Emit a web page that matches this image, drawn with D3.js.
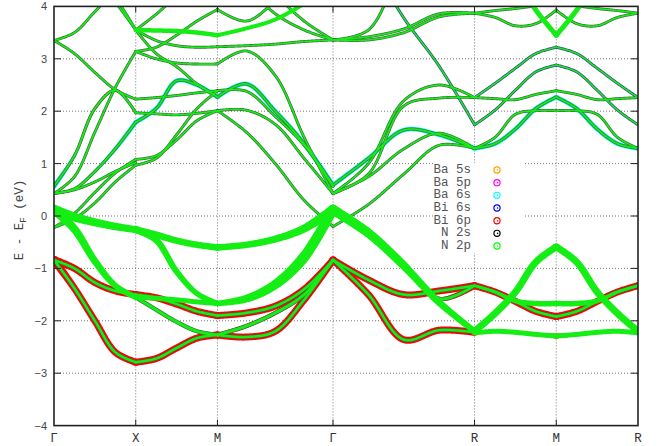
<!DOCTYPE html>
<html><head><meta charset="utf-8">
<script src="https://cdn.jsdelivr.net/npm/d3@7"></script>
<style>body{margin:0;background:#fff} svg{display:block}</style>
</head><body>
<svg id="chart" width="657" height="446"></svg>
<script>
// ---------------- data ----------------
const kTicks = [0, 0.5, 1.0, 1.7071, 2.5731, 3.0731, 3.5731];
const kLabels = ["Γ","X","M","Γ","R","M","R"];
const eTicks = [-4,-3,-2,-1,0,1,2,3,4];
const legendLabels = ["Ba 5s","Ba 5p","Ba 6s","Bi 6s","Bi 6p","N 2s","N 2p"];
const legendColors = ["#ffa500","#ff00ff","#00ffff","#0000ff","#ff0000","#000000","#00ff00"];

// energies (eV) at 5 equally spaced k points of each path segment
const bandsGX = [
 [0.12, -0.02, -0.12, -0.20, -0.26],
 [0.12, -0.25, -0.86, -1.33, -1.55],
 [-0.84, -1.38, -2.00, -2.60, -2.79],
 [-0.84, -1.00, -1.27, -1.43, -1.50],
 [-0.22, 0.05, 0.45, 0.82, 1.08],
 [-0.22, -0.05, 0.25, 0.65, 0.97],
 [0.43, 0.50, 0.65, 0.85, 1.02],
 [0.57, 1.15, 2.05, 2.40, 1.97],
 [0.43, 0.75, 1.60, 2.45, 3.14],
 [0.43, 0.52, 0.85, 1.28, 1.79],
 [3.35, 3.10, 2.74, 2.41, 2.23],
 [3.35, 3.50, 3.90, 4.30, 4.60],
 [5.50, 5.00, 4.50, 4.08, 3.55],
 [5.80, 5.20, 4.70, 4.18, 3.55]
];
const bandsXM = [
 [-0.26, -0.36, -0.47, -0.55, -0.60],
 [-0.26, -0.46, -1.06, -1.48, -1.67],
 [-1.55, -1.57, -1.60, -1.64, -1.67],
 [-1.55, -1.79, -2.02, -2.20, -2.27],
 [-2.79, -2.72, -2.52, -2.33, -2.27],
 [-1.50, -1.56, -1.68, -1.82, -1.90],
 [1.97, 1.95, 1.93, 1.96, 2.01],
 [2.23, 2.26, 2.30, 2.35, 2.39],
 [1.79, 2.05, 2.58, 2.50, 2.27],
 [3.55, 3.10, 2.85, 2.52, 2.27],
 [3.14, 3.22, 3.45, 3.72, 3.94],
 [3.14, 3.00, 2.92, 2.90, 2.90],
 [3.55, 3.35, 3.25, 3.22, 3.23],
 [3.55, 3.54, 3.53, 3.50, 3.45],
 [3.55, 3.85, 4.20, 4.50, 4.80],
 [1.08, 1.15, 1.45, 1.82, 2.01],
 [0.97, 1.10, 1.55, 2.05, 2.39]
];
const bandsMG = [
 [-0.60, -0.55, -0.44, -0.24, 0.12],
 [-1.67, -1.56, -1.28, -0.74, 0.12],
 [-1.67, -1.60, -1.34, -0.82, 0.12],
 [-2.27, -2.10, -1.85, -1.50, -0.84],
 [-2.27, -2.31, -2.20, -1.60, -0.84],
 [-1.90, -1.85, -1.72, -1.40, -0.84],
 [2.01, 2.02, 1.75, 1.10, 0.43],
 [2.01, 1.60, 1.00, 0.30, -0.20],
 [2.27, 2.52, 2.00, 1.38, 0.59],
 [2.39, 2.38, 1.90, 1.35, 0.56],
 [2.90, 3.15, 2.68, 1.50, 0.43],
 [3.23, 3.25, 3.28, 3.33, 3.36],
 [3.45, 3.58, 3.75, 4.05, 4.40],
 [3.94, 3.72, 4.10, 4.60, 5.00],
 [4.90, 4.40, 3.86, 3.55, 3.36],
 [5.50, 5.00, 4.25, 3.72, 3.36]
];
const bandsGR = [
 [0.12, -0.33, -0.95, -1.65, -2.20],
 [0.12, -0.30, -0.90, -1.58, -1.33],
 [-0.84, -1.22, -1.50, -1.43, -1.33],
 [-0.84, -1.50, -2.36, -2.18, -2.22],
 [-0.20, 0.22, 0.80, 1.35, 1.29],
 [0.43, 0.75, 1.28, 1.58, 1.29],
 [0.59, 1.10, 1.64, 1.55, 1.29],
 [0.43, 1.00, 2.20, 2.50, 2.26],
 [0.43, 0.80, 2.10, 2.25, 2.26],
 [5.80, 4.90, 3.78, 2.86, 1.74],
 [3.36, 3.42, 3.57, 3.86, 3.87],
 [3.36, 3.36, 3.50, 3.80, 3.87],
 [3.36, 3.55, 4.80, 5.50, 6.00]
];
const bandsRM = [
 [-2.20, -1.86, -1.45, -0.88, -0.59],
 [-2.23, -2.20, -2.22, -2.26, -2.29],
 [-1.33, -1.45, -1.62, -1.67, -1.67],
 [-1.33, -1.45, -1.63, -1.82, -1.92],
 [1.29, 1.38, 1.66, 2.05, 2.27],
 [1.29, 1.50, 1.94, 2.01, 2.01],
 [1.74, 2.02, 2.40, 2.75, 2.88],
 [2.26, 2.24, 2.22, 2.32, 2.39],
 [2.26, 2.53, 2.82, 3.10, 3.22],
 [3.87, 3.79, 3.63, 3.67, 3.93],
 [6.00, 5.20, 4.55, 3.93, 3.45],
 [3.87, 3.92, 3.96, 4.02, 4.15]
];
const bandsMR = [
 [-0.59, -0.88, -1.45, -1.86, -2.20],
 [-2.29, -2.26, -2.22, -2.20, -2.23],
 [-1.67, -1.67, -1.62, -1.45, -1.33],
 [-1.92, -1.82, -1.63, -1.45, -1.33],
 [2.27, 2.05, 1.66, 1.38, 1.29],
 [2.01, 2.01, 1.94, 1.50, 1.29],
 [2.88, 2.75, 2.40, 2.02, 1.74],
 [2.39, 2.32, 2.22, 2.24, 2.26],
 [3.22, 3.10, 2.82, 2.53, 2.26],
 [3.93, 3.67, 3.63, 3.79, 3.87],
 [3.45, 3.93, 4.55, 5.20, 6.00],
 [4.15, 4.02, 3.96, 3.92, 3.87]
];

// projection weights (drawn symbol size): g = N 2p, r = Bi 6p, c = Ba 6s, b = Bi 6s tint
const weightsGX = [
 {g:[10,9,8,7.5,7]}, {g:[9,8,7,6,5.5]}, {g:2.5, r:[8,7,7,7,7]}, {g:2.5, r:[8,7,7,7,7]},
 {g:1.6}, {g:1.6}, {g:1.6}, {g:1.8, c:[5,3,0,0,0], r:[0,1.5,2.5,2.5,1]},
 {g:1.6}, {g:1.8, c:[0,2,3,4,4.5]}, {g:1.6}, {g:1.6}, {g:1.6}, {g:1.6}
];
const weightsXM = [
 {g:[7,7,6.5,6.5,6.5]}, {g:[7,6.5,6,5.5,5.5]}, {g:5}, {g:3, r:[0,0,1,3,4]},
 {g:2.5, r:7}, {g:2.5, r:7}, {g:1.6, r:1.2}, {g:1.6}, {g:1.8, c:4.5}, {g:1.6},
 {g:1.6, r:1.5}, {g:1.6}, {g:1.6}, {g:4.5}, {g:1.6, r:1.5}, {g:1.6}, {g:1.6}
];
const weightsMG = [
 {g:[6.5,6.5,7,8,10]}, {g:[5.5,6,7,8,10]}, {g:[5,5.5,6.5,8,9]}, {g:3, r:4},
 {g:2.5, r:7}, {g:2.5, r:7}, {g:1.6}, {g:1.6, r:1.2}, {g:1.8, c:4.5}, {g:1.6},
 {g:1.6}, {g:1.6}, {g:4}, {g:1.6}, {g:1.6}, {g:1.6}
];
const weightsGR = [
 {g:[10,9,8,7,6]}, {g:[9,7,5,3,2.5], r:[0,0,1,4,6]}, {g:2.5, r:7}, {g:2.5, r:7},
 {g:1.6}, {g:1.6}, {g:1.8, c:4.5}, {g:1.6}, {g:1.6}, {g:1.6, b:1},
 {g:1.6}, {g:1.6}, {g:1.6, r:1.5}
];
const weightsRM = [
 {g:7}, {g:5, r:[0,0,1,3,5]}, {g:[2.5,3,5,5.5,5.5], r:[6,4,1,0,0]}, {g:2.5, r:7},
 {g:1.8, c:4.5}, {g:1.6}, {g:1.6, b:1}, {g:1.6}, {g:1.6, b:1}, {g:1.6}, {g:5}, {g:1.6}
];
const weightsMR = [
 {g:7}, {g:5, r:[5,3,1,0,0]}, {g:[5.5,5.5,5,3,2.5], r:[0,0,1,4,6]}, {g:2.5, r:7},
 {g:1.8, c:4.5}, {g:1.6}, {g:1.6, b:1}, {g:1.6}, {g:1.6, b:1}, {g:1.6}, {g:5}, {g:1.6}
];

// ---------------- drawing ----------------
const X0 = 54, X1 = 638, Y0 = 6.4, Y1 = 425.6;
const x = d3.scaleLinear().domain([kTicks[0], kTicks[6]]).range([X0, X1]);
const y = d3.scaleLinear().domain([-4, 4]).range([Y1, Y0]);

const svg = d3.select("#chart");
svg.append("defs").append("clipPath").attr("id","clip")
  .append("rect").attr("x",X0).attr("y",Y0).attr("width",X1-X0).attr("height",Y1-Y0);

// grid
const grid = svg.append("g").attr("stroke","#666").attr("stroke-width",0.9).attr("stroke-dasharray","1,2");
eTicks.slice(1,-1).forEach(e=>{
  grid.append("line").attr("x1",X0).attr("x2",X1).attr("y1",y(e)).attr("y2",y(e));
});
kTicks.slice(1,-1).forEach(k=>{
  grid.append("line").attr("x1",x(k)).attr("x2",x(k)).attr("y1",Y0).attr("y2",Y1);
});

const plot = svg.append("g").attr("clip-path","url(#clip)");
const gCyan = plot.append("g"), gRed = plot.append("g"), gEdge = plot.append("g"), gGreen = plot.append("g");
const tmp = svg.append("path").attr("fill","none").attr("stroke","none");
const line = d3.line().curve(d3.curveCatmullRom.alpha(0.5));

function wAt(w, t){
  if (w == null) return 0;
  if (typeof w === "number") return w;
  const s = Math.max(0, Math.min(4, t*4));
  const i = Math.min(3, Math.floor(s));
  return w[i] + (w[i+1]-w[i])*(s-i);
}
function sample(pts){
  tmp.attr("d", line(pts));
  const node = tmp.node(), L = node.getTotalLength();
  const n = Math.max(4, Math.ceil(L/0.8));
  const out = [];
  for (let i=0;i<=n;i++){ const p = node.getPointAtLength(L*i/n); out.push([p.x,p.y]); }
  return out;
}
function ribbon(g, pts, ws, color){
  if (d3.max(ws) < 0.2) return;
  const n = pts.length, Lp = [], Rp = [];
  for (let i=0;i<n;i++){
    const a = pts[Math.max(0,i-1)], b = pts[Math.min(n-1,i+1)];
    let tx = b[0]-a[0], ty = b[1]-a[1];
    const len = Math.hypot(tx,ty) || 1; tx/=len; ty/=len;
    const h = ws[i]/2;
    Lp.push([pts[i][0]-ty*h, pts[i][1]+tx*h]);
    Rp.push([pts[i][0]+ty*h, pts[i][1]-tx*h]);
  }
  const d = "M" + Lp.map(p=>p[0].toFixed(2)+","+p[1].toFixed(2)).join("L") +
            "L" + Rp.reverse().map(p=>p[0].toFixed(2)+","+p[1].toFixed(2)).join("L") + "Z";
  g.append("path").attr("d", d).attr("fill", color);
  [0, n-1].forEach(i=>{
    if (ws[i] > 0.2) g.append("circle").attr("cx",pts[i][0]).attr("cy",pts[i][1]).attr("r",ws[i]/2).attr("fill",color);
  });
}

const segments = [
  [kTicks[0], kTicks[1], bandsGX, weightsGX],
  [kTicks[1], kTicks[2], bandsXM, weightsXM],
  [kTicks[2], kTicks[3], bandsMG, weightsMG],
  [kTicks[3], kTicks[4], bandsGR, weightsGR],
  [kTicks[4], kTicks[5], bandsRM, weightsRM],
  [kTicks[5], kTicks[6], bandsMR, weightsMR]
];
segments.forEach(([k0,k1,bands,weights])=>{
  bands.forEach((vals, bi)=>{
    const w = weights[bi];
    const pts = vals.map((e,i)=>[x(k0+(k1-k0)*i/4), y(e)]);
    const dense = sample(pts);
    const xs = pts[0][0], xe = pts[4][0];
    const t = dense.map(p=>(p[0]-xs)/(xe-xs));
    const gw = t.map(v=>wAt(w.g, v));
    ribbon(gCyan, dense, t.map(v=>wAt(w.c, v)), "#00ffff");
    ribbon(gRed, dense, t.map(v=>wAt(w.r, v)), "#ff0000");
    ribbon(gEdge, dense, gw.map(v=> v < 3.6 ? v + 1.3 : 0), w.b ? "#3a3a96" : "#3e6a3e");
    ribbon(gGreen, dense, gw, "#14ee14");
  });
});
tmp.remove();

// legend (opaque key box)
const key = svg.append("g");
key.append("rect").attr("x",433).attr("y",163).attr("width",90).attr("height",90).attr("fill","#fff");
legendLabels.forEach((lab,i)=>{
  const yy = 170 + i*12.67;
  key.append("text").attr("x",471).attr("y",yy).attr("text-anchor","end")
    .attr("dominant-baseline","central").attr("font-family","Liberation Mono, monospace")
    .attr("font-size",12.5).attr("fill","#555").text(lab);
  key.append("circle").attr("cx",497).attr("cy",yy).attr("r",3.1)
    .attr("fill","none").attr("stroke",legendColors[i]).attr("stroke-width",1.2);
  key.append("circle").attr("cx",497.6).attr("cy",yy).attr("r",0.8).attr("fill",legendColors[i]);
});

// frame and ticks
const axes = svg.append("g").attr("stroke","#222");
eTicks.slice(1,-1).forEach(e=>{
  axes.append("line").attr("x1",X0).attr("x2",X0+7).attr("y1",y(e)).attr("y2",y(e)).attr("stroke-width",1);
  axes.append("line").attr("x1",X1-7).attr("x2",X1).attr("y1",y(e)).attr("y2",y(e)).attr("stroke-width",1);
});
kTicks.slice(1,-1).forEach(k=>{
  axes.append("line").attr("x1",x(k)).attr("x2",x(k)).attr("y1",Y1).attr("y2",Y1-6).attr("stroke-width",1);
  axes.append("line").attr("x1",x(k)).attr("x2",x(k)).attr("y1",Y0).attr("y2",Y0+6).attr("stroke-width",1);
});
axes.append("rect").attr("x",X0).attr("y",Y0).attr("width",X1-X0).attr("height",Y1-Y0)
  .attr("fill","none").attr("stroke-width",1.6);

// tick labels
svg.append("g").selectAll("text").data(eTicks).join("text")
  .attr("x",47).attr("y",d=>y(d)).attr("text-anchor","end").attr("dominant-baseline","central")
  .attr("font-family","Liberation Sans, Arial, sans-serif").attr("font-size",11).attr("fill","#444")
  .text(d=> d<0 ? "−"+Math.abs(d) : String(d));
svg.append("g").selectAll("text").data(kTicks).join("text")
  .attr("x",d=>x(d)).attr("y",442).attr("text-anchor","middle")
  .attr("font-family","Liberation Mono, monospace").attr("font-size",12.5).attr("fill","#333")
  .text((d,i)=>kLabels[i]);

// y label
const yl = svg.append("text").attr("transform","translate(23,220) rotate(-90)")
  .attr("text-anchor","middle").attr("font-family","Liberation Mono, monospace")
  .attr("font-size",12.5).attr("fill","#444");
yl.append("tspan").text("E - E");
yl.append("tspan").attr("dy",3).attr("font-size",9).text("F");
yl.append("tspan").attr("dy",-3).text(" (eV)");
</script>
</body></html>
